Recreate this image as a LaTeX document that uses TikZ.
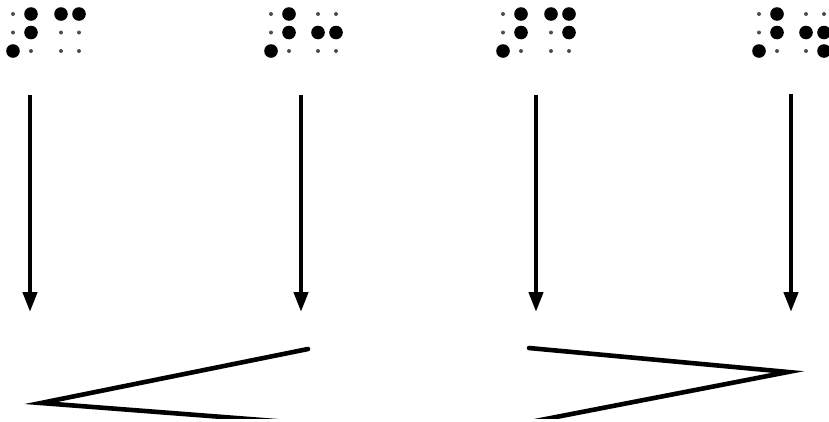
\documentclass[tikz,border=0pt]{standalone}
\usetikzlibrary{arrows.meta}
\newcommand\bdot[3]{\fill[#3] (#1,#2) circle;}
% x of left column, then dots 1..6 (col1 rows 1-3, col2 rows 1-3)
\newcommand\brcell[7]{%
  \bdot{#1}{14}{#2}\bdot{#1}{32.5}{#3}\bdot{#1}{51}{#4}%
  \bdot{#1+18}{14}{#5}\bdot{#1+18}{32.5}{#6}\bdot{#1+18}{51}{#7}}
\tikzset{
  B/.style={black, radius=6.8},
  s/.style={black!70, radius=2.0},
  arr/.style={line width=4.2pt, -{Triangle[width=14pt,length=20pt]}},
  stroke/.style={line width=4.6pt, line join=miter, miter limit=30, line cap=round}
}
\begin{document}
\begin{tikzpicture}[x=1pt,y=-1pt]
\useasboundingbox (0,0) rectangle (829,421);
% braille cells
\brcell{13}{s}{s}{B}{B}{B}{s}
\brcell{61}{B}{s}{s}{B}{s}{s}
\brcell{271}{s}{s}{B}{B}{B}{s}
\brcell{318}{s}{B}{s}{s}{B}{s}
\brcell{503}{s}{s}{B}{B}{B}{s}
\brcell{551}{B}{s}{s}{B}{B}{s}
\brcell{759}{s}{s}{B}{B}{B}{s}
\brcell{806}{s}{B}{s}{s}{B}{B}
% arrows
\coordinate (s1) at (30,95);  \coordinate (e1) at (30,312);
\coordinate (s2) at (301,95); \coordinate (e2) at (301,312);
\coordinate (s3) at (536,95); \coordinate (e3) at (536,312);
\coordinate (s4) at (791,94); \coordinate (e4) at (791,312);
\draw[arr] (s1) -- (e1);
\draw[arr] (s2) -- (e2);
\draw[arr] (s3) -- (e3);
\draw[arr] (s4) -- (e4);
% less-than and greater-than signs (cut at the bottom)
\begin{scope}
\clip (0,0) rectangle (829,418);
\coordinate (lt1) at (308,349);
\coordinate (ltv) at (41,403);
\coordinate (lt2) at (340,426);
\draw[stroke] (lt1) -- (ltv) -- (lt2);
\coordinate (gt1) at (529,348);
\coordinate (gtv) at (788,372);
\coordinate (gt2) at (520,424);
\draw[stroke] (gt1) -- (gtv) -- (gt2);
\end{scope}
\end{tikzpicture}
\end{document}
